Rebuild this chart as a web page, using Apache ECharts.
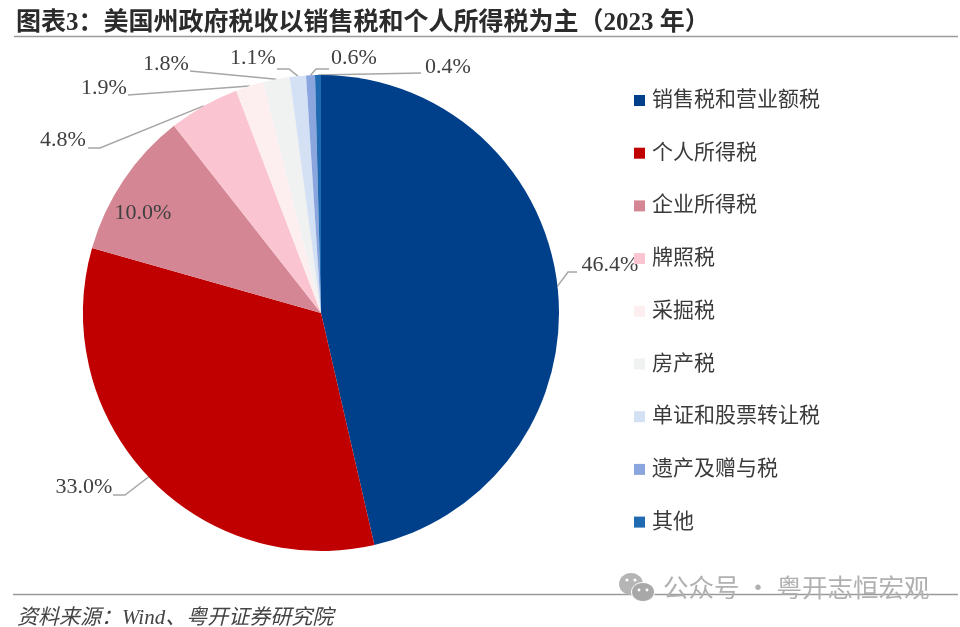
<!DOCTYPE html>
<html>
<head>
<meta charset="utf-8">
<style>html,body{margin:0;padding:0;background:#fff}#c{width:960px;height:627px}</style>
<script src="https://cdn.jsdelivr.net/npm/echarts@6/dist/echarts.min.js"></script>
</head>
<body>
<div id="c"></div>
<script>
const categories = ['销售税和营业额税','个人所得税','企业所得税','牌照税','采掘税','房产税','单证和股票转让税','遗产及赠与税','其他'];
const shares = [46.4,33.0,10.0,4.8,1.9,1.8,1.1,0.6,0.4];
const sliceColors = ['#00408a','#c00000','#d48694','#fac5d0','#fdeef0','#f0f1f1','#d4e0f3','#8ba6de','#1f6ab0'];
const titleText = '图表3：美国州政府税收以销售税和个人所得税为主（2023 年）';
const sourceText = '资料来源：Wind、粤开证券研究院';
const watermarkText = '公众号 · 粤开志恒宏观';

// label annotation placement (centre of each label text, then the leader's elbow and end)
const labelCentres = [[610,265],[84,487],[143,213],[63,140],[104,88],[166,64],[253,58],[354,58],[448,67]];
const leaderBends = [[[568,272],[577,272]],[[125,495],[113,495]],null,[[100,148],[88,148]],[[128,95]],[[190,71]],[[289,69],[277,69]],[[316,69],[329,69]],[[421,73]]];

const SERIF = '"Liberation Serif","Noto Sans CJK SC"';
const chart = echarts.init(document.getElementById('c'), null, {renderer:'canvas'});
chart.setOption({
  backgroundColor:'#fff',
  animation:false,
  title:{text:titleText,left:11,top:6,textStyle:{fontFamily:SERIF,fontSize:25,fontWeight:'bold',color:'#2b2b2b'}},
  legend:{
    orient:'vertical',left:629,top:85,itemWidth:11,itemHeight:11,itemGap:31.7,icon:'rect',
    data:categories,selectedMode:false,
    textStyle:{fontFamily:SERIF,fontSize:21,color:'#3a3a3a',padding:[0,0,0,2]}
  },
  series:[{
    type:'pie',center:[321,313],radius:[0,238],startAngle:90,clockwise:true,avoidLabelOverlap:false,
    silent:true,
    data:categories.map((n,i)=>({name:n,value:shares[i],itemStyle:{color:sliceColors[i]},labelLine:{show:leaderBends[i]!==null}})),
    itemStyle:{borderWidth:0},
    label:{show:true,position:'outside',formatter:p=>p.value.toFixed(1)+'%',fontFamily:SERIF,fontSize:22,color:'#404040'},
    labelLine:{show:true,lineStyle:{color:'#a6a6a6',width:1.5}},
    labelLayout:function(p){
      const i=p.dataIndex, c=labelCentres[i], b=leaderBends[i];
      const out={x:c[0],y:c[1],align:'center',verticalAlign:'middle'};
      if(b&&p.labelLinePoints){out.labelLinePoints=[p.labelLinePoints[0]].concat(b);}
      return out;
    }
  }],
  graphic:[
    {type:'line',shape:{x1:14,y1:36.5,x2:958,y2:36.5},style:{stroke:'#9a9a9a',lineWidth:1.5},z:5},
    {type:'line',shape:{x1:13,y1:594.5,x2:958,y2:594.5},style:{stroke:'#9a9a9a',lineWidth:1.5},z:5},
    {type:'text',left:17,top:608,style:{text:sourceText,fontFamily:SERIF,fontStyle:'italic',fontSize:21,fill:'#444'}},
    {type:'text',left:663,top:575,style:{text:watermarkText,fontFamily:'"Noto Sans CJK SC"',fontSize:25.5,fill:'#b0b0b0'},z:6},
    {type:'ellipse',shape:{cx:631,cy:584,rx:12,ry:11},style:{fill:'#b5b5b5'},z:6},
    {type:'ellipse',shape:{cx:643,cy:592,rx:11.5,ry:9.5},style:{fill:'#a8a8a8',stroke:'#fff',lineWidth:1},z:7},
    {type:'circle',shape:{cx:627,cy:580,r:1.6},style:{fill:'#fff'},z:8},
    {type:'circle',shape:{cx:635,cy:580,r:1.6},style:{fill:'#fff'},z:8},
    {type:'circle',shape:{cx:639,cy:590,r:1.4},style:{fill:'#fff'},z:8},
    {type:'circle',shape:{cx:647,cy:590,r:1.4},style:{fill:'#fff'},z:8}
  ]
});
</script>
</body>
</html>
